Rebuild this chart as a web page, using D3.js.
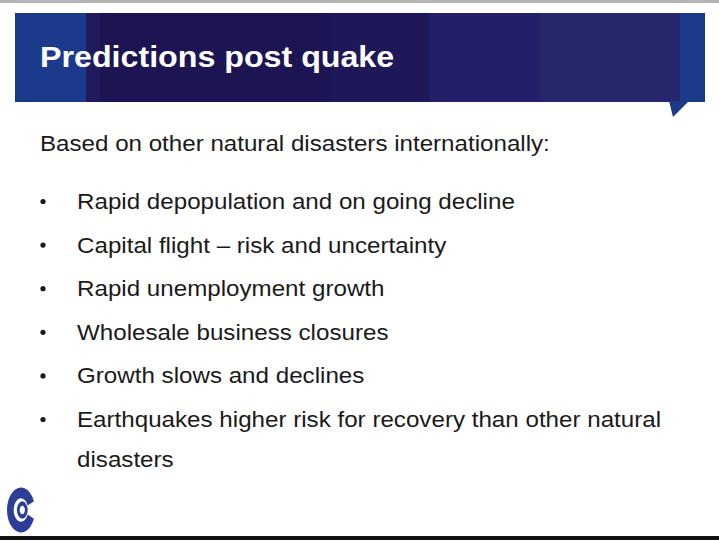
<!DOCTYPE html>
<html>
<head>
<meta charset="utf-8">
<script src="https://cdn.jsdelivr.net/npm/d3@7"></script>
<style>
  body { margin: 0; background: #fff; }
  svg { display: block; }
</style>
</head>
<body>
<script>
let w = 719;
let h = 542;

let title = 'Predictions post quake';
let intro = 'Based on other natural disasters internationally:';
let bullets = [
  ['Rapid depopulation and on going decline'],
  ['Capital flight \u2013 risk and uncertainty'],
  ['Rapid unemployment growth'],
  ['Wholesale business closures'],
  ['Growth slows and declines'],
  ['Earthquakes higher risk for recovery than other natural', 'disasters']
];

// banner background blocks (x from, x to, colour)
let bannerBlocks = [
  { x0: 15, x1: 86, fill: '#1c3a8b' },
  { x0: 86, x1: 680, fill: '#211b5e' },
  { x0: 100, x1: 330, fill: '#1d1553' },
  { x0: 330, x1: 430, fill: '#1f1858' },
  { x0: 430, x1: 540, fill: '#22206a' },
  { x0: 540, x1: 680, fill: '#25266c' },
  { x0: 680, x1: 705, fill: '#1b3a8a' }
];

let font = '"Liberation Sans", Arial, sans-serif';

// the slide is a little wider than the font draws it
let stretch = (sel, k) => {
  sel.each(function () {
    let len = this.getComputedTextLength();
    d3.select(this)
      .attr('textLength', len * k)
      .attr('lengthAdjust', 'spacingAndGlyphs');
  });
};

let svg = d3.select('body')
  .append('svg')
  .attr('width', w)
  .attr('height', h);

// top grey rule and bottom black rule
svg.append('rect').attr('x', 0).attr('y', 0).attr('width', w).attr('height', 3).attr('fill', '#b4b4b4');
svg.append('rect').attr('x', 0).attr('y', 536).attr('width', w).attr('height', 4).attr('fill', '#111');

// banner
let banner = svg.append('g');
banner.selectAll('rect')
  .data(bannerBlocks)
  .enter()
  .append('rect')
  .attr('x', (d) => { return d.x0; })
  .attr('y', 13)
  .attr('width', (d) => { return d.x1 - d.x0; })
  .attr('height', 89)
  .attr('fill', (d) => { return d.fill; });

banner.append('path')
  .attr('d', 'M669,101 L689,101 L673,117 Z')
  .attr('fill', '#1b3a8a');

banner.append('text')
  .text(title)
  .attr('x', 40)
  .attr('y', 67)
  .attr('font-family', font)
  .attr('font-weight', 'bold')
  .attr('font-size', '30px')
  .attr('fill', '#fff')
  .call(stretch, 1.073);

// body text
svg.append('text')
  .text(intro)
  .attr('x', 40)
  .attr('y', 151)
  .attr('font-family', font)
  .attr('font-size', '22px')
  .attr('fill', '#1a1a1a')
  .call(stretch, 1.097);

// bullet baselines; wrapped lines sit a bit closer
let lineY = d3.scaleLinear().domain([0, bullets.length - 1]).range([209, 427]);
let wrapGap = 40;

let rows = [];
bullets.forEach((b, i) => {
  b.forEach((t, j) => {
    rows.push({ text: t, bullet: j === 0, y: lineY(i) + j * wrapGap });
  });
});

let items = svg.append('g')
  .selectAll('g')
  .data(rows)
  .enter()
  .append('g');

items.filter((d) => { return d.bullet; })
  .append('circle')
  .attr('cx', 43)
  .attr('cy', (d) => { return d.y - 7.5; })
  .attr('r', 2.6)
  .attr('fill', '#1a1a1a');

items.append('text')
  .text((d) => { return d.text; })
  .attr('x', 77)
  .attr('y', (d) => { return d.y; })
  .attr('font-family', font)
  .attr('font-size', '22px')
  .attr('fill', '#1a1a1a')
  .call(stretch, 1.098);

// logo: C shape with inner ring, opening to the right
let logo = svg.append('g').attr('transform', 'translate(21,510) scale(1,1.6)');
let outer = d3.arc()
  .innerRadius(7.3)
  .outerRadius(14)
  .startAngle(Math.PI / 2 + 0.4)
  .endAngle(Math.PI * 2.5 - 0.4);
logo.append('path').attr('d', outer()).attr('fill', '#2c3e98');
logo.append('circle').attr('cx', 1.3).attr('cy', 0).attr('r', 4).attr('fill', 'none')
  .attr('stroke', '#2c3e98').attr('stroke-width', 2.8);
</script>
</body>
</html>
